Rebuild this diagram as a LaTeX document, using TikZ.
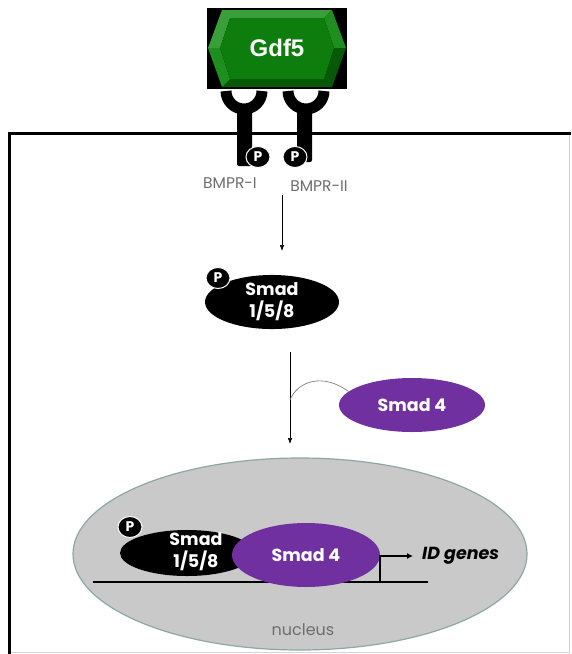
\documentclass[tikz,border=0pt]{standalone}
\usepackage{fontspec}
\setmainfont{Poppins}
\newfontfamily\ligandfont{Liberation Sans}
\usetikzlibrary{shapes.geometric,arrows.meta}

\definecolor{smadpurple}{HTML}{7030A0}
\definecolor{nucfill}{HTML}{C9C9C9}
\definecolor{nucedge}{HTML}{8FA6A8}
\definecolor{labelgray}{HTML}{6E6E6E}
\definecolor{gdfface}{HTML}{0D7D0D}
\definecolor{gdflight}{HTML}{3A9E3A}
\definecolor{gdfmid}{HTML}{1E8E1E}
\definecolor{gdfdark}{HTML}{075807}

\begin{document}
\begin{tikzpicture}[x=1pt,y=-1pt,
  smadblack/.style={ellipse, fill=black, text=white, inner sep=0pt, align=center,
    font=\bfseries\fontsize{17.5}{22}\selectfont},
  smadfour/.style={ellipse, fill=smadpurple, text=white, inner sep=0pt,
    font=\bfseries\fontsize{17.5}{20}\selectfont},
  phos/.style={ellipse, fill=black, draw=white, line width=1pt, text=white, inner sep=0pt,
    minimum width=24pt, minimum height=21pt, font=\bfseries\fontsize{14}{15}\selectfont},
  reclabel/.style={text=labelgray, font=\fontsize{15.5}{17}\selectfont, inner sep=0pt},
  cup/.style={line width=11pt},
  signal/.style={line width=0.6pt, -{Latex[length=6pt,width=4.5pt]}},
  dna/.style={line width=2.4pt}
]
\useasboundingbox (0,0) rectangle (571,654);
\fill[white] (0,0) rectangle (571,654);

% cell outline: plasma membrane on top, cell edge on the left
\draw[labelgray!30, line width=0.6pt] (569,133) -- (569,652) -- (9,652);
\draw[line width=3pt] (9,654) -- (9,133) -- (571,133);

% Gdf5 ligand: bevelled green hexagon on a black tile
\fill[black] (207,8) rectangle (347,89);
\fill[gdflight] (208,48) -- (222,10) -- (332,10) -- (324,18) -- (230,18) -- (220,48) -- cycle;
\fill[gdfmid] (332,10) -- (346,48) -- (334,48) -- (324,18) -- cycle;
\fill[gdfdark] (346,48) -- (332,87) -- (222,87) -- (230,79) -- (324,79) -- (334,48) -- cycle;
\fill[gdfmid] (208,48) -- (222,87) -- (230,79) -- (220,48) -- cycle;
\fill[gdfface] (220,48) -- (230,18) -- (324,18) -- (334,48) -- (324,79) -- (230,79) -- cycle;
\node[text=white, font=\ligandfont\bfseries\fontsize{24}{26}\selectfont, inner sep=0pt]
  (gdf) at (277,48) {Gdf5};

% BMP receptors spanning the membrane
\draw[cup] (226,91) arc (180:0:18);
\fill[black, rounded corners=2pt] (237,104) rectangle (252,166);
\draw[cup] (288,91) arc (180:0:18);
\fill[black, rounded corners=2pt] (297,104) rectangle (312,162);
\node[phos] (p1) at (258,157) {P};
\node[phos] (p2) at (295,157) {P};
\node[reclabel] (bmpr1) at (230,183) {BMPR-I};
\node[reclabel] (bmpr2) at (319,186) {BMPR-II};

% phosphorylated Smad 1/5/8 in the cytoplasm
\node[smadblack, minimum width=134pt, minimum height=50pt] (smad158) at (272,302) {Smad\\1/5/8};
\node[phos] (p3) at (218,278) {P};
\coordinate (recout) at (282,195);
\coordinate (cytin) at (282,251);
\draw[signal] (recout) -- (cytin);

% Smad 4 joins on the way to the nucleus
\node[smadfour, minimum width=146pt, minimum height=54pt] (smad4) at (412,405) {Smad 4};
\coordinate (cytA) at (290,352);
\coordinate (cytB) at (290,444);
\coordinate (joint) at (290,400);
\draw[signal] (cytA) -- (cytB);
\draw[labelgray, line width=0.6pt] (joint) .. controls (297,382) and (322,372) .. (smad4.168);

% nucleus with the Smad complex on the ID gene promoter
\node[ellipse, fill=nucfill, draw=nucedge, line width=1.2pt,
  minimum width=454pt, minimum height=192pt] (nucleus) at (300,554) {};
\node[text=labelgray, font=\fontsize{16}{18}\selectfont, inner sep=0pt] (nuclabel) at (303,630) {nucleus};

\coordinate (dnaL) at (93,582);
\coordinate (dnaR) at (428,582);
\coordinate (tss) at (380,582);
\draw[dna] (dnaL) -- (dnaR);

\node[smadblack, minimum width=134pt, minimum height=46pt] (nsmad158) at (187,553) {};
\node[text=white, font=\bfseries\fontsize{17.5}{22}\selectfont, align=center, inner sep=0pt]
  at (196,552) {Smad\\1/5/8};
\node[phos] (p4) at (130,527) {P};
\node[smadfour, minimum width=148pt, minimum height=64pt] (nsmad4) at (306,555) {Smad 4};

\node[font=\bfseries\itshape\fontsize{17.5}{20}\selectfont, anchor=west, inner sep=0pt]
  (idgenes) at (422,556) {ID genes};
\draw[line width=1.6pt, -{Latex[length=6pt,width=6pt]}] (tss) |- ([xshift=-9pt]idgenes.west);
\end{tikzpicture}
\end{document}
